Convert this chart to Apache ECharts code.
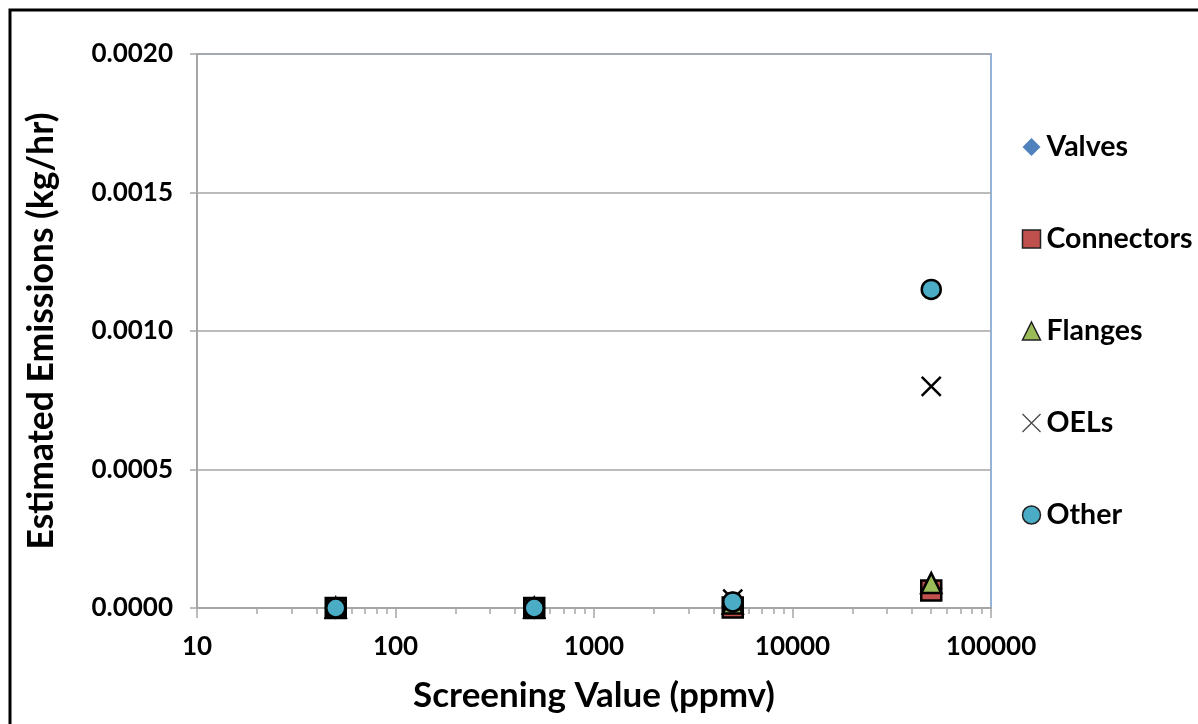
<!DOCTYPE html>
<html>
<head>
<meta charset="utf-8">
<script src="https://cdn.jsdelivr.net/npm/echarts@6/dist/echarts.min.js"></script>
<style>
html,body{margin:0;padding:0;background:#fff;}
#chart{width:1198px;height:724px;}
</style>
</head>
<body>
<div id="chart"></div>
<script>
// ---- data ----
const screening = [50, 500, 5000, 50000];
const valves = [0, 0, 0.000005, 0.00007];
const connectors = [0, 0, 0.000002, 0.000063];
const flanges = [0.000001, 0.000001, 0.000016, 0.00009];
const oels = [0, 0, 0.000032, 0.0008];
const other = [0, 0, 0.000022, 0.00115];
const minorTickValues = [20,30,40,50,60,70,80,90,200,300,400,500,600,700,800,900,
  2000,3000,4000,5000,6000,7000,8000,9000,20000,30000,40000,50000,60000,70000,80000,90000];

const FONT = 'Lato';
const pairs = arr => screening.map((x, i) => [x, arr[i]]);
const crossPath = 'path://M0,0L10,10M10,0L0,10';

const chart = echarts.init(document.getElementById('chart'));
chart.setOption({
  animation: false,
  backgroundColor: '#fff',
  graphic: [{
    type: 'rect', silent: true, z: 100,
    shape: {x: 10, y: 10, width: 1300, height: 800},
    style: {fill: 'none', stroke: '#000', lineWidth: 3}
  }],
  grid: {
    left: 197, right: 207, top: 54, bottom: 116,
    show: true, borderColor: '#95B3D7', borderWidth: 2, backgroundColor: 'transparent'
  },
  legend: {
    orient: 'vertical', left: 1020, top: 132, itemGap: 62, padding: 0,
    itemWidth: 18, itemHeight: 18,
    textStyle: {fontFamily: FONT, fontWeight: 'bold', fontSize: 28.5, color: '#000', lineHeight: 30, padding: [0,0,0,1]},
    data: [
      {name: 'Valves', icon: 'diamond', itemStyle: {color: '#4F81BD', borderWidth: 0, opacity: 1}},
      {name: 'Connectors', icon: 'rect', itemStyle: {color: '#C0504D', borderColor: '#222', borderWidth: 1.5, opacity: 1}},
      {name: 'Flanges', icon: 'triangle', itemStyle: {color: '#9BBB59', borderColor: '#222', borderWidth: 1.5, opacity: 1}},
      {name: 'OELs', icon: crossPath, itemStyle: {color: 'none', borderColor: '#444', borderWidth: 1.2, opacity: 1}},
      {name: 'Other', icon: 'circle', itemStyle: {color: '#4BACC6', borderColor: '#222', borderWidth: 1.5, opacity: 1}}
    ]
  },
  xAxis: [{
    type: 'log', logBase: 10, min: 10, max: 100000,
    name: 'Screening Value (ppmv)', nameLocation: 'middle', nameGap: 70,
    nameTextStyle: {fontFamily: FONT, fontWeight: 'bold', fontSize: 35, color: '#000'},
    axisLine: {show: true, lineStyle: {color: '#A6A6A6', width: 2}},
    axisTick: {show: true, inside: false, length: 10, lineStyle: {color: '#A6A6A6', width: 1.5}},
    axisLabel: {fontFamily: FONT, fontWeight: 'bold', fontSize: 26, color: '#000', margin: 26,
      formatter: v => String(Math.round(v))},
    splitLine: {show: false}
  }, {
    type: 'log', logBase: 10, min: 10, max: 100000, position: 'bottom',
    axisLine: {show: false},
    axisLabel: {show: false},
    axisTick: {show: true, length: 6, customValues: minorTickValues, lineStyle: {color: '#A6A6A6', width: 1.5}},
    splitLine: {show: false}
  }],
  yAxis: {
    type: 'value', min: 0, max: 0.002, interval: 0.0005,
    name: 'Estimated Emissions (kg/hr)', nameLocation: 'middle', nameGap: 137,
    nameTextStyle: {fontFamily: FONT, fontWeight: 'bold', fontSize: 35.5, color: '#000'},
    axisLine: {show: true, lineStyle: {color: '#A6A6A6', width: 2}},
    axisTick: {show: true, inside: false, length: 7, lineStyle: {color: '#A6A6A6', width: 1.5}},
    axisLabel: {fontFamily: FONT, fontWeight: 'bold', fontSize: 26, color: '#000', margin: 24,
      formatter: v => v.toFixed(4)},
    splitLine: {show: true, lineStyle: {color: '#A6A6A6', width: 1.5}}
  },
  series: [
    {name: 'Valves', type: 'scatter', data: pairs(valves), symbol: 'diamond', symbolSize: 20,
      itemStyle: {color: '#4F81BD', borderColor: '#000', borderWidth: 2, opacity: 1}},
    {name: 'Connectors', type: 'scatter', data: pairs(connectors), symbol: 'rect', symbolSize: 20,
      itemStyle: {color: '#C0504D', borderColor: '#000', borderWidth: 2.5, opacity: 1}},
    {name: 'Flanges', type: 'scatter', data: pairs(flanges), symbol: 'triangle', symbolSize: 20,
      itemStyle: {color: '#9BBB59', borderColor: '#000', borderWidth: 2.5, opacity: 1}},
    {name: 'OELs', type: 'scatter', data: pairs(oels), symbol: crossPath, symbolSize: 19,
      itemStyle: {color: 'none', borderColor: '#000', borderWidth: 2.5, opacity: 1}},
    {name: 'Other', type: 'scatter', data: pairs(other), symbol: 'circle', symbolSize: 19,
      itemStyle: {color: '#4BACC6', borderColor: '#000', borderWidth: 2.5, opacity: 1}}
  ]
});
</script>
</body>
</html>
